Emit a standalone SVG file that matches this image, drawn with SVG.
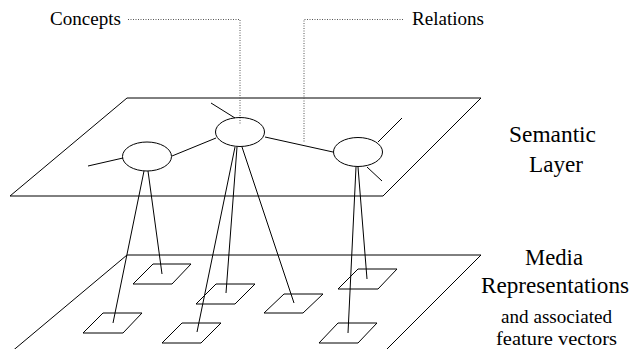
<svg xmlns="http://www.w3.org/2000/svg" width="632" height="349" viewBox="0 0 632 349">
<style>
.ln{stroke:#000;stroke-width:1;fill:none}
.pl{stroke:#000;stroke-width:1;fill:none}
.dot{stroke:#555;stroke-width:1;fill:none;stroke-dasharray:1 1.5}
text{font-family:"Liberation Serif","DejaVu Serif",serif;fill:#000}
.big{font-size:23px;text-anchor:middle}
.sm{font-size:19.5px}
</style>
<rect width="632" height="349" fill="#fff"/>
<g id="semantic-layer"><polygon class="pl" points="127,98 481,98 383,196 10,196"/></g>
<g id="media-layer"><polygon class="pl" points="127,255 481,255 383,353 10,353"/></g>
<g id="connectors">
<line class="ln" x1="88" y1="166" x2="123" y2="158"/>
<line class="ln" x1="172" y1="156" x2="216" y2="138"/>
<line class="ln" x1="211" y1="103" x2="235" y2="118"/>
<line class="ln" x1="265" y1="137" x2="333" y2="152"/>
<line class="ln" x1="378" y1="142" x2="402" y2="118"/>
<line class="ln" x1="367" y1="167" x2="382" y2="181"/>
<line class="ln" x1="144" y1="171" x2="113" y2="323"/>
<line class="ln" x1="148" y1="171" x2="162" y2="274"/>
<line class="ln" x1="235" y1="147" x2="197" y2="332"/>
<line class="ln" x1="237" y1="147" x2="226" y2="293"/>
<line class="ln" x1="242" y1="147" x2="294" y2="303"/>
<line class="ln" x1="356" y1="167" x2="348" y2="333"/>
<line class="ln" x1="358" y1="167" x2="367" y2="279"/>
<polyline class="dot" points="128,19.5 240,19.5 240,125"/>
<polyline class="dot" points="403,19.5 304,19.5 304,143"/>
</g>
<g id="concept-left"><ellipse class="ln" cx="147" cy="156.5" rx="24.5" ry="14.5"/></g>
<g id="concept-middle"><ellipse class="ln" cx="240" cy="132" rx="24.5" ry="14.5"/></g>
<g id="concept-right"><ellipse class="ln" cx="358" cy="152" rx="24.5" ry="14.5"/></g>
<g id="media-1"><polygon class="ln" points="153,264 191,264 172,284 133,284"/></g>
<g id="media-2"><polygon class="ln" points="216,284 255,284 235,304 196,304"/></g>
<g id="media-3"><polygon class="ln" points="284,294 323,294 303,313 264,313"/></g>
<g id="media-4"><polygon class="ln" points="358,269 397,269 378,289 338,289"/></g>
<g id="media-5"><polygon class="ln" points="103,313 142,313 123,333 83,333"/></g>
<g id="media-6"><polygon class="ln" points="182,323 221,323 201,343 162,343"/></g>
<g id="media-7"><polygon class="ln" points="338,323 377,323 358,343 319,343"/></g>
<g id="label-concepts"><text class="sm" x="50" y="25" textLength="71" lengthAdjust="spacingAndGlyphs">Concepts</text></g>
<g id="label-relations"><text class="sm" x="412" y="25" textLength="72" lengthAdjust="spacingAndGlyphs">Relations</text></g>
<g id="label-semantic"><text class="big" x="552.5" y="142" textLength="87" lengthAdjust="spacingAndGlyphs">Semantic</text><text class="big" x="556" y="172" textLength="54" lengthAdjust="spacingAndGlyphs">Layer</text></g>
<g id="label-media"><text class="big" x="554" y="265" textLength="58" lengthAdjust="spacingAndGlyphs">Media</text><text class="big" x="555" y="293" textLength="148" lengthAdjust="spacingAndGlyphs">Representations</text><text class="sm" x="556.5" y="323" text-anchor="middle" textLength="111" lengthAdjust="spacingAndGlyphs">and associated</text><text class="sm" x="556.5" y="345" text-anchor="middle" textLength="121" lengthAdjust="spacingAndGlyphs">feature vectors</text></g>
</svg>
